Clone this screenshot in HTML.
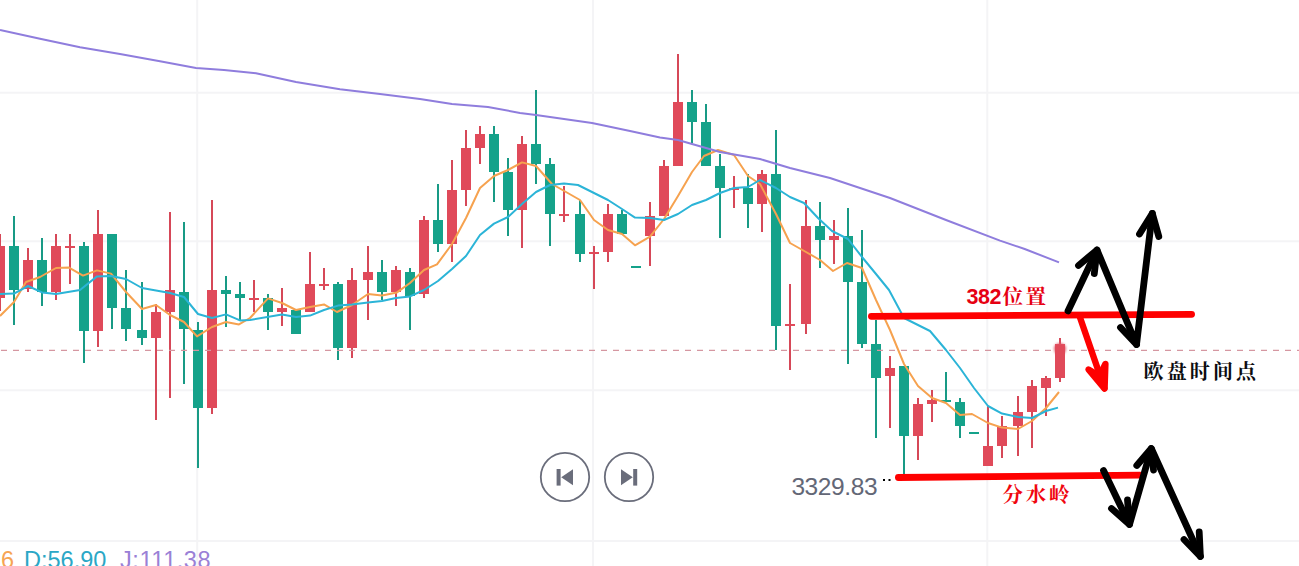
<!DOCTYPE html>
<html><head><meta charset="utf-8"><title>chart</title>
<style>
html,body{margin:0;padding:0;background:#fff;}
body{width:1299px;height:566px;overflow:hidden;position:relative;font-family:"Liberation Sans",sans-serif;}
svg{position:absolute;left:0;top:0;display:block}
.t{position:absolute;white-space:nowrap;line-height:1}
</style></head><body>
<svg width="1299" height="566" viewBox="0 0 1299 566">
<g stroke="#f4f4f6" stroke-width="2"><line x1="0" y1="92.7" x2="1299" y2="92.7"/><line x1="0" y1="241.3" x2="1299" y2="241.3"/><line x1="0" y1="390.2" x2="1299" y2="390.2"/><line x1="0" y1="541" x2="1299" y2="541"/><line x1="197.2" y1="0" x2="197.2" y2="566"/><line x1="593" y1="0" x2="593" y2="566"/><line x1="987.3" y1="0" x2="987.3" y2="566"/></g>
<rect x="-1" y="234" width="2" height="77" fill="#d64858"/><rect x="-5" y="246" width="10" height="52" fill="#e04a5a"/>
<rect x="13" y="216" width="2" height="109" fill="#189a85"/><rect x="9" y="246" width="10" height="44" fill="#15a28a"/>
<rect x="27" y="248" width="2" height="44" fill="#d64858"/><rect x="23" y="260" width="10" height="29" fill="#e04a5a"/>
<rect x="41" y="238" width="2" height="68" fill="#189a85"/><rect x="37" y="260" width="10" height="32" fill="#15a28a"/>
<rect x="55" y="234" width="2" height="66" fill="#d64858"/><rect x="51" y="246" width="10" height="46" fill="#e04a5a"/>
<rect x="69" y="234" width="2" height="50" fill="#d64858"/><rect x="65" y="246" width="10" height="2" fill="#e04a5a"/>
<rect x="83" y="242" width="2" height="121" fill="#189a85"/><rect x="79" y="246" width="10" height="85" fill="#15a28a"/>
<rect x="97" y="210" width="2" height="137" fill="#d64858"/><rect x="93" y="234" width="10" height="97" fill="#e04a5a"/>
<rect x="111" y="234" width="2" height="95" fill="#189a85"/><rect x="107" y="234" width="10" height="74" fill="#15a28a"/>
<rect x="125" y="270" width="2" height="71" fill="#189a85"/><rect x="121" y="308" width="10" height="21" fill="#15a28a"/>
<rect x="141" y="282" width="2" height="63" fill="#189a85"/><rect x="137" y="330" width="10" height="8" fill="#15a28a"/>
<rect x="155" y="304" width="2" height="116" fill="#d64858"/><rect x="151" y="312" width="10" height="26" fill="#e04a5a"/>
<rect x="169" y="212" width="2" height="186" fill="#d64858"/><rect x="165" y="290" width="10" height="22" fill="#e04a5a"/>
<rect x="183" y="222" width="2" height="162" fill="#189a85"/><rect x="179" y="292" width="10" height="37" fill="#15a28a"/>
<rect x="197" y="322" width="2" height="146" fill="#189a85"/><rect x="193" y="330" width="10" height="78" fill="#15a28a"/>
<rect x="211" y="200" width="2" height="214" fill="#d64858"/><rect x="207" y="290" width="10" height="118" fill="#e04a5a"/>
<rect x="225" y="276" width="2" height="51" fill="#189a85"/><rect x="221" y="290" width="10" height="4" fill="#15a28a"/>
<rect x="239" y="282" width="2" height="38" fill="#189a85"/><rect x="235" y="294" width="10" height="4" fill="#15a28a"/>
<rect x="253" y="280" width="2" height="32" fill="#d64858"/><rect x="249" y="298" width="10" height="2" fill="#e04a5a"/>
<rect x="267" y="294" width="2" height="36" fill="#189a85"/><rect x="263" y="298" width="10" height="14" fill="#15a28a"/>
<rect x="281" y="288" width="2" height="38" fill="#d64858"/><rect x="277" y="308" width="10" height="4" fill="#e04a5a"/>
<rect x="295" y="310" width="2" height="24" fill="#189a85"/><rect x="291" y="310" width="10" height="24" fill="#15a28a"/>
<rect x="309" y="252" width="2" height="60" fill="#d64858"/><rect x="305" y="284" width="10" height="28" fill="#e04a5a"/>
<rect x="323" y="268" width="2" height="22" fill="#d64858"/><rect x="319" y="284" width="10" height="2" fill="#e04a5a"/>
<rect x="337" y="282" width="2" height="78" fill="#189a85"/><rect x="333" y="284" width="10" height="64" fill="#15a28a"/>
<rect x="351" y="268" width="2" height="90" fill="#d64858"/><rect x="347" y="280" width="10" height="68" fill="#e04a5a"/>
<rect x="367" y="246" width="2" height="74" fill="#d64858"/><rect x="363" y="272" width="10" height="8" fill="#e04a5a"/>
<rect x="381" y="260" width="2" height="40" fill="#189a85"/><rect x="377" y="272" width="10" height="20" fill="#15a28a"/>
<rect x="395" y="266" width="2" height="40" fill="#d64858"/><rect x="391" y="270" width="10" height="22" fill="#e04a5a"/>
<rect x="409" y="268" width="2" height="62" fill="#189a85"/><rect x="405" y="272" width="10" height="24" fill="#15a28a"/>
<rect x="423" y="216" width="2" height="82" fill="#d64858"/><rect x="419" y="220" width="10" height="74" fill="#e04a5a"/>
<rect x="437" y="184" width="2" height="68" fill="#189a85"/><rect x="433" y="220" width="10" height="24" fill="#15a28a"/>
<rect x="451" y="160" width="2" height="102" fill="#d64858"/><rect x="447" y="190" width="10" height="54" fill="#e04a5a"/>
<rect x="465" y="130" width="2" height="76" fill="#d64858"/><rect x="461" y="148" width="10" height="42" fill="#e04a5a"/>
<rect x="479" y="126" width="2" height="38" fill="#d64858"/><rect x="475" y="134" width="10" height="14" fill="#e04a5a"/>
<rect x="493" y="126" width="2" height="76" fill="#189a85"/><rect x="489" y="134" width="10" height="38" fill="#15a28a"/>
<rect x="507" y="158" width="2" height="78" fill="#189a85"/><rect x="503" y="172" width="10" height="38" fill="#15a28a"/>
<rect x="521" y="136" width="2" height="112" fill="#d64858"/><rect x="517" y="144" width="10" height="66" fill="#e04a5a"/>
<rect x="535" y="90" width="2" height="94" fill="#189a85"/><rect x="531" y="144" width="10" height="20" fill="#15a28a"/>
<rect x="549" y="158" width="2" height="88" fill="#189a85"/><rect x="545" y="164" width="10" height="50" fill="#15a28a"/>
<rect x="563" y="186" width="2" height="36" fill="#d64858"/><rect x="559" y="214" width="10" height="2" fill="#e04a5a"/>
<rect x="579" y="200" width="2" height="62" fill="#189a85"/><rect x="575" y="214" width="10" height="40" fill="#15a28a"/>
<rect x="593" y="246" width="2" height="43" fill="#d64858"/><rect x="589" y="252" width="10" height="2" fill="#e04a5a"/>
<rect x="607" y="204" width="2" height="58" fill="#d64858"/><rect x="603" y="214" width="10" height="38" fill="#e04a5a"/>
<rect x="621" y="210" width="2" height="24" fill="#189a85"/><rect x="617" y="214" width="10" height="20" fill="#15a28a"/>
<rect x="635" y="266" width="2" height="2" fill="#189a85"/><rect x="631" y="266" width="10" height="2" fill="#15a28a"/>
<rect x="649" y="202" width="2" height="64" fill="#d64858"/><rect x="645" y="216" width="10" height="20" fill="#e04a5a"/>
<rect x="663" y="160" width="2" height="56" fill="#d64858"/><rect x="659" y="166" width="10" height="50" fill="#e04a5a"/>
<rect x="677" y="54" width="2" height="112" fill="#d64858"/><rect x="673" y="102" width="10" height="64" fill="#e04a5a"/>
<rect x="691" y="90" width="2" height="53" fill="#189a85"/><rect x="687" y="102" width="10" height="20" fill="#15a28a"/>
<rect x="705" y="104" width="2" height="62" fill="#189a85"/><rect x="701" y="122" width="10" height="44" fill="#15a28a"/>
<rect x="719" y="154" width="2" height="84" fill="#189a85"/><rect x="715" y="166" width="10" height="22" fill="#15a28a"/>
<rect x="733" y="176" width="2" height="32" fill="#d64858"/><rect x="729" y="188" width="10" height="2" fill="#e04a5a"/>
<rect x="747" y="174" width="2" height="54" fill="#189a85"/><rect x="743" y="188" width="10" height="16" fill="#15a28a"/>
<rect x="761" y="170" width="2" height="62" fill="#d64858"/><rect x="757" y="174" width="10" height="30" fill="#e04a5a"/>
<rect x="775" y="130" width="2" height="220" fill="#189a85"/><rect x="771" y="174" width="10" height="152" fill="#15a28a"/>
<rect x="789" y="284" width="2" height="86" fill="#d64858"/><rect x="785" y="324" width="10" height="2" fill="#e04a5a"/>
<rect x="805" y="200" width="2" height="134" fill="#d64858"/><rect x="801" y="226" width="10" height="98" fill="#e04a5a"/>
<rect x="819" y="202" width="2" height="66" fill="#189a85"/><rect x="815" y="226" width="10" height="14" fill="#15a28a"/>
<rect x="833" y="220" width="2" height="44" fill="#d64858"/><rect x="829" y="236" width="10" height="4" fill="#e04a5a"/>
<rect x="847" y="208" width="2" height="156" fill="#189a85"/><rect x="843" y="236" width="10" height="46" fill="#15a28a"/>
<rect x="861" y="230" width="2" height="118" fill="#189a85"/><rect x="857" y="282" width="10" height="62" fill="#15a28a"/>
<rect x="875" y="320" width="2" height="118" fill="#189a85"/><rect x="871" y="344" width="10" height="34" fill="#15a28a"/>
<rect x="889" y="356" width="2" height="72" fill="#d64858"/><rect x="885" y="368" width="10" height="8" fill="#e04a5a"/>
<rect x="903" y="366" width="2" height="108" fill="#189a85"/><rect x="899" y="366" width="10" height="70" fill="#15a28a"/>
<rect x="917" y="398" width="2" height="62" fill="#d64858"/><rect x="913" y="404" width="10" height="32" fill="#e04a5a"/>
<rect x="931" y="390" width="2" height="32" fill="#d64858"/><rect x="927" y="400" width="10" height="4" fill="#e04a5a"/>
<rect x="945" y="372" width="2" height="30" fill="#189a85"/><rect x="941" y="400" width="10" height="2" fill="#15a28a"/>
<rect x="959" y="398" width="2" height="40" fill="#189a85"/><rect x="955" y="402" width="10" height="24" fill="#15a28a"/>
<rect x="973" y="432" width="2" height="2" fill="#189a85"/><rect x="969" y="432" width="10" height="2" fill="#15a28a"/>
<rect x="987" y="406" width="2" height="60" fill="#d64858"/><rect x="983" y="446" width="10" height="20" fill="#e04a5a"/>
<rect x="1001" y="416" width="2" height="42" fill="#d64858"/><rect x="997" y="426" width="10" height="20" fill="#e04a5a"/>
<rect x="1017" y="396" width="2" height="60" fill="#d64858"/><rect x="1013" y="412" width="10" height="14" fill="#e04a5a"/>
<rect x="1031" y="380" width="2" height="68" fill="#d64858"/><rect x="1027" y="386" width="10" height="26" fill="#e04a5a"/>
<rect x="1045" y="376" width="2" height="40" fill="#d64858"/><rect x="1041" y="378" width="10" height="10" fill="#e04a5a"/>
<rect x="1059" y="338" width="2" height="44" fill="#d64858"/><rect x="1055" y="344" width="10" height="34" fill="#e04a5a"/>
<line x1="1" y1="350.3" x2="1299" y2="350.3" stroke="#d597a1" stroke-width="1.3" stroke-dasharray="6 6"/>
<polyline points="0,316 14,302 26,282 40,277 56,268 69,267.6 83,275.6 97,270.4 111,273.6 126,292 142,309 156,305 170,315 184,322 197,336.4 212,327 226,322 239,324.4 250,318 268,298.4 282,303 296,310 310,307 324,304.4 337,312 352,305 368,294 382,295.6 397,292.4 410,283 424,270 437,264.4 452,244 466,218 480,188 494,176 508,170 522,162.4 536,166 552,184 566,192 580,200 594,220 608,230 622,234 635,245.3 650,236.6 664,219 678,196 692,172 704,156 718,150 734,155 748,176 760,184 776,214 790,243 806,252 820,260 833,271 847,263 862,268 876,300 890,330 904,364 918,386 932,398 946,403 960,415 972,414 988,423 1002,427.6 1018,429 1032,421 1046,408 1059,392" fill="none" stroke="#f6a24f" stroke-width="2" stroke-linejoin="round"/>
<polyline points="0,294 14,293.6 28,286 42,292.4 56,294 80,290 97,276.4 111,276 126,279 142,288 170,293 184,297 198,314 212,318 226,314.4 240,320.4 250,320 282,314.4 296,317 310,315.6 324,310 338,305.6 352,304.4 368,302.4 382,301 396,298 410,296.4 424,290 438,281 452,269 466,256 480,235 494,223.6 508,217 522,204 536,192 550,185 564,183.6 578,185 594,193 608,200 622,209 635,217.6 650,218 664,220 678,214 692,205 706,200 720,193 734,188 748,187 760,180 776,188 790,197 804,203 818,218 832,231 848,239 862,257 876,274 889,290 904,318 930,331 946,350 960,368 974,388 988,406 1002,413.6 1018,417 1032,418 1046,411 1058,407.6" fill="none" stroke="#2bb4d7" stroke-width="2" stroke-linejoin="round"/>
<polyline points="0,30 40,38.8 80,47.2 120,54 160,61.2 196,68 224,70 256,73.2 296,82 340,89.3 380,94 420,98.9 452,104 488,106.9 520,113 536,115 592,123 630,131 660,137.6 678,140 720,152 760,159 790,168 830,178 890,198 946,220 1000,240.6 1024.7,249 1059,262.4" fill="none" stroke="#8f7ddd" stroke-width="2" stroke-linejoin="round"/>
<defs><filter id="bl" x="-50%" y="-50%" width="200%" height="200%"><feGaussianBlur stdDeviation="1.3"/></filter></defs><circle cx="1060" cy="349" r="6.2" fill="#e2596a" opacity="0.8" filter="url(#bl)"/><rect x="1055" y="344.5" width="10" height="12" rx="3.5" fill="#e04a5a"/>
<line x1="871.4" y1="316.3" x2="1191.6" y2="314.3" stroke="#fe0000" stroke-width="6.8" stroke-linecap="round"/>
<line x1="898.4" y1="477.5" x2="1140" y2="475.2" stroke="#fe0000" stroke-width="6.8" stroke-linecap="round"/>
<g stroke="#fe0000" stroke-width="6.4" stroke-linecap="round" stroke-linejoin="round" fill="#fe0000"><polyline fill="none" points="1079.5,316 1104.3,388"/><polygon points="1088.5,369.5 1104.6,388.6 1105.4,364 1099.5,376"/></g>
<g stroke="#000" stroke-width="6.8" stroke-linecap="round" stroke-linejoin="round" fill="none"><polyline points="1068,311 1097,250 1136.5,344.5 1152.3,213.5"/><polyline points="1078.5,265.5 1097,250 1094.3,273.5"/><polyline points="1120.5,327.5 1136.5,344.5"/><polyline points="1139.5,234 1152.3,213.5 1158.8,236.5"/><polyline points="1103.5,470.5 1129.5,524.5 1151.3,448.5 1200.4,556.5"/><polyline points="1111.5,508.5 1129.5,524.5 1127.5,500"/><polyline points="1136.8,465.5 1151.3,448.5 1153.5,470"/><polyline points="1184,539.5 1200.4,556.5 1199.2,532"/></g>
<rect x="883" y="479" width="2" height="2" fill="#000"/><rect x="888.5" y="479" width="2" height="2" fill="#000"/>
<circle cx="565" cy="477" r="24.2" fill="#fff" stroke="#6a6d7b" stroke-width="1.8"/><circle cx="629" cy="477" r="24.2" fill="#fff" stroke="#6a6d7b" stroke-width="1.8"/><g fill="#6a6d7b"><rect x="556.6" y="469" width="4" height="16.6"/><path d="M561.2 477.3 L573 469.3 L573 485.3 Z"/><path d="M621 469.3 L632.8 477.3 L621 485.3 Z"/><rect x="633.2" y="469" width="4" height="16.6"/></g>
<text x="1002.6" y="304.3" font-size="20.5" font-weight="bold" letter-spacing="2.5" fill="#e60012" font-family="'Liberation Serif','Noto Serif CJK SC',serif">位置</text>
<text x="1002.5" y="501.6" font-size="20.5" font-weight="bold" letter-spacing="2.7" fill="#f0060e" font-family="'Liberation Serif','Noto Serif CJK SC',serif">分水岭</text>
<text x="1143.6" y="378.8" font-size="20" font-weight="bold" letter-spacing="3.1" fill="#0c0c10" font-family="'Liberation Serif','Noto Serif CJK SC',serif">欧盘时间点</text>
</svg>
<div class="t" style="left:966.5px;top:287.1px;font-size:21.5px;letter-spacing:-0.4px;font-weight:bold;color:#e60012;">382</div>
<div class="t" style="left:791.4px;top:475.2px;font-size:24.5px;color:#636776;letter-spacing:-0.4px">3329.83</div>
<div class="t" style="left:1px;top:548.8px;font-size:23.5px;color:#f6a453;">6</div>
<div class="t" style="left:24px;top:548.8px;font-size:23.5px;color:#2ba7c6;">D:56.90</div>
<div class="t" style="left:120px;top:548.8px;font-size:23.5px;letter-spacing:0.55px;color:#9a80d6;">J:111.38</div>
</body></html>
